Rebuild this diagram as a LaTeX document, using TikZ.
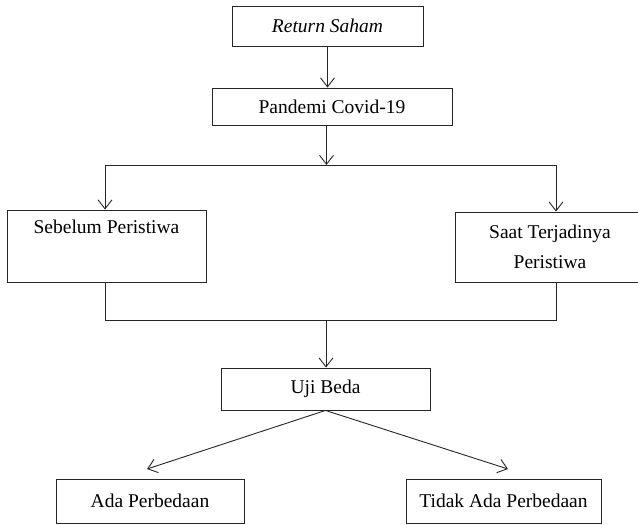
\documentclass[tikz,border=0pt]{standalone}
\usepackage{fontspec}
\setmainfont{Liberation Serif}
\usetikzlibrary{arrows.meta}
\tikzset{
  box/.style={draw=black!85, line width=0.9pt, inner sep=0pt, align=center,
    font=\fontsize{19.5}{30}\selectfont},
  arr/.style={draw=black!85, line width=0.9pt, -{Straight Barb[length=9pt,width=14pt,line width=0.9pt]}},
  ln/.style={draw=black!85, line width=0.9pt},
}
\begin{document}
\begin{tikzpicture}[x=1pt,y=1pt]
\useasboundingbox (0,0) rectangle (638,-525);
% boxes
\node[box, minimum width=191pt, minimum height=40pt] (ret) at (327.5,-26) {\itshape Return Saham};
\node[box, minimum width=240pt, minimum height=37pt] (pand) at (332,-106.5) {Pandemi Covid-19};
\node[box, minimum width=199pt, minimum height=72pt] (seb) at (106.5,-246) {Sebelum Peristiwa\\\strut};
\node[box, minimum width=190pt, minimum height=70pt] (saat) at (550,-247) {Saat Terjadinya\\Peristiwa};
\node[box, minimum width=209pt, minimum height=42pt] (uji) at (325.5,-389) {Uji Beda};
\node[box, minimum width=188pt, minimum height=44pt] (ada) at (150,-501) {Ada Perbedaan};
\node[box, minimum width=195pt, minimum height=44pt] (tidak) at (503.5,-501) {Tidak Ada Perbedaan};
% junction coordinates
\coordinate (tm) at (326.5,-165);
\coordinate (tl) at (105,-165);
\coordinate (tr) at (556,-165);
\coordinate (bl) at (105,-320);
\coordinate (br) at (556,-320);
\coordinate (bm) at (326,-320);
\coordinate (adatip) at (147,-469);
\coordinate (tidaktip) at (508,-469);
% connectors
\draw[arr] (ret.south) -- (ret.south |- pand.north);
\draw[arr] (pand.south -| tm) -- (tm);
\draw[ln] (tl) -- (tr);
\draw[arr] (tl) -- (tl |- seb.north);
\draw[arr] (tr) -- (tr |- saat.north);
\draw[ln] (bl |- seb.south) -- (bl) -- (br) -- (br |- saat.south);
\draw[arr] (bm) -- (bm |- uji.north);
\draw[arr] (uji.south) -- (adatip);
\draw[arr] (uji.south) -- (tidaktip);
\end{tikzpicture}
\end{document}
